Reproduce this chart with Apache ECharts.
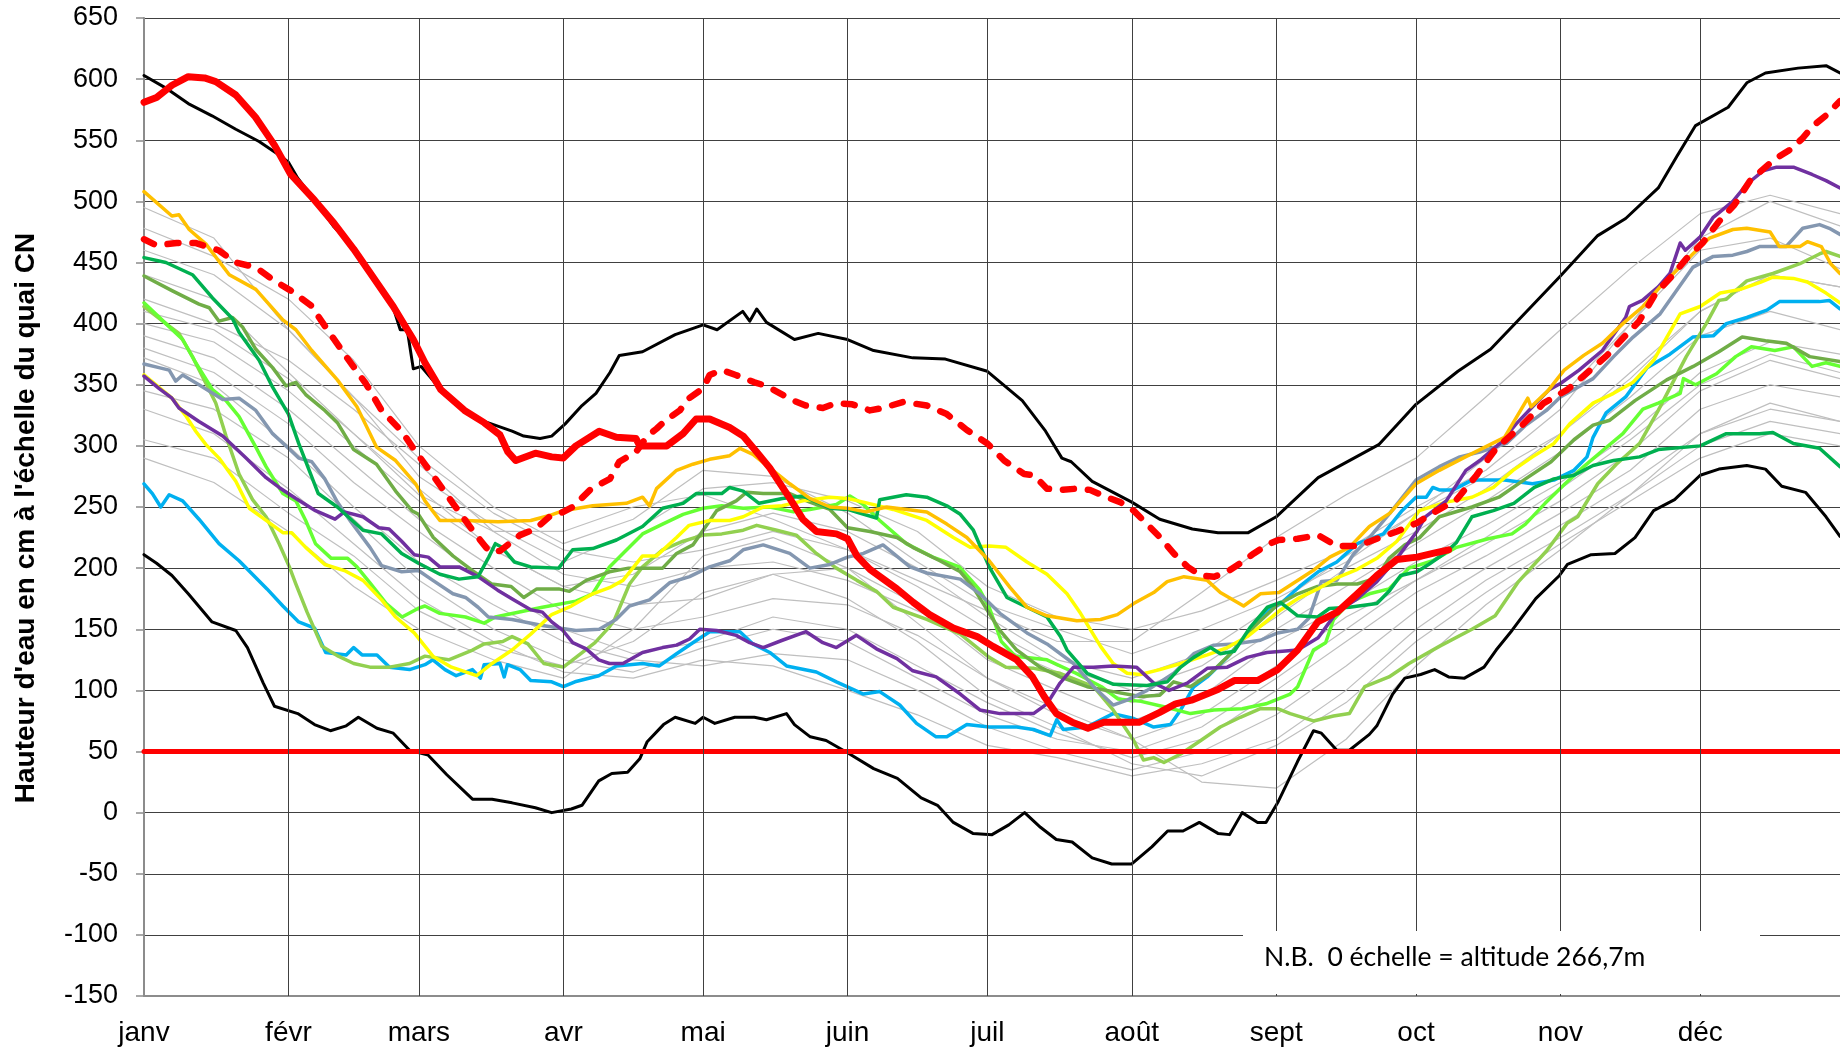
<!DOCTYPE html>
<html><head><meta charset="utf-8">
<script src="https://cdn.jsdelivr.net/npm/echarts@6/dist/echarts.min.js"></script>
<style>html,body{margin:0;padding:0;background:#fff}#chart{width:1840px;height:1051px}</style>
</head><body><div id="chart"></div>
<script>
// ---------- axes ----------
const monthLabels = ['janv','févr','mars','avr','mai','juin','juil','août','sept','oct','nov','déc'];
const monthStartDays = [0,31,59,90,120,151,181,212,243,273,304,334];
const yMin = -150, yMax = 650, yStep = 50;
const yTitle = "Hauteur d'eau en cm à l'échelle du quai CN";
const note = "N.B.  0 échelle = altitude 266,7m";
const alertLevel = 50;

// ---------- series values: [day of year, cm] ----------
const maxYears = [[0,603],[5,592],[9.5,580],[14.6,570],[19.7,559],[24.7,549],[29,538],[31,532],[33,519],[36.6,501],[40.8,479],[45,462],[49,439],[53.5,413],[55,395],[56.5,395],[57.8,363],[59.5,365],[63.7,346],[68.8,330],[73,320],[79,312],[81.5,308],[85,306],[87.5,308],[90.4,318],[94,333],[97,343],[100,360],[102,374],[107,377],[114,391],[120,399],[123,395],[128.5,410],[130,402],[131.5,412],[133.6,401],[139.6,387],[144.7,392],[151,387],[156.6,378],[165,372],[172,371],[181,361],[188.5,337],[193.5,312],[197,290],[199,287],[203.5,271],[212,254],[218,240],[225,232],[230.5,229],[237,229],[243,242],[252,274],[265,301],[273,334],[282,361],[289,379],[295,403],[304,439],[312,472],[318,486],[325,511],[329,537],[333,562],[340,577],[344,597],[348,605],[355,609],[361,611],[364,605]];
const minYears = [[0,211],[2.7,204],[6,194],[9.5,179],[14.6,156],[19.7,149],[22.2,135],[25.6,106],[28,87],[33,81],[36.6,72],[40,67],[43.4,71],[46,78],[50,69],[53.5,65],[57,51],[61,47],[65,31],[70.5,11],[74.7,11],[79,8],[84,4],[87.5,0],[91.7,3],[94,6],[97.6,26],[100.4,32],[103.8,33],[106.4,44],[108,58],[111.5,72],[114,78],[118.3,73],[120,78],[122.5,73],[126.8,78],[131,78],[133.6,76],[137.9,81],[139.6,72],[143,62],[146.4,59],[151,49],[156.6,36],[161.7,28],[166.8,12],[170.3,6],[173.7,-8],[177.9,-17],[182,-18],[185.6,-10],[189,0],[192.4,-12],[195.8,-22],[199.2,-24],[203.5,-37],[207.7,-42],[212,-42],[216.3,-28],[219.7,-15],[223,-15],[226.5,-8],[230.5,-17],[233,-18],[235.7,0],[239,-8],[240.8,-8],[243.3,8],[247.6,42],[251,67],[252.7,65],[256,51],[258.7,51],[263,64],[264.6,71],[268,97],[270.6,110],[274,113],[277,117],[280,111],[283.4,110],[287.6,119],[290.2,133],[293.6,149],[298.7,175],[303.8,194],[305.5,203],[310.6,211],[315.7,212],[320,225],[324,247],[328.5,256],[334,276],[338,281],[344,284],[348,281],[351.5,267],[356.6,262],[361,242],[364,226]];
const currentYear = [[0,581],[2.7,585],[6,595],[9.5,602],[13,601],[15.4,598],[19.7,587],[23.9,569],[28,546],[31.5,522],[36.6,501],[40.8,482],[45,461],[49,439],[53.5,414],[57.8,387],[60.3,368],[63.7,346],[68.8,329],[73,319],[76.4,309],[78.1,295],[79.8,288],[84,294],[87.5,291],[90,290],[92.7,300],[97.7,312],[101.4,307],[105.6,306],[106.4,300],[112.2,300],[115.7,310],[118.5,322],[121.4,322],[125.7,315],[128.6,308],[131.5,295],[134.3,282],[138.6,257],[141.4,240],[144.3,230],[148.6,228],[151,224],[153,210],[155.8,199],[161.6,183],[165.1,172],[168.6,162],[173.7,151],[178.8,144],[182.2,136],[187.3,125],[190.7,111],[193.2,95],[195.8,81],[199.2,74],[202.6,69],[206,74],[211.1,74],[213.7,74],[218,82],[221.4,89],[224.8,92],[230.6,101],[234,108],[239,108],[243.3,117],[247.6,133],[251.9,156],[256.1,164],[260.4,179],[264.6,194],[268.9,207],[273.2,209],[276.6,212],[280,215]];
const meanYears = [[0,469],[2.7,464],[7,466],[11,466],[16,460],[19.7,450],[24,446],[28,435],[31.5,427],[35.8,415],[39,397],[43.4,373],[47.6,351],[51,329],[55.3,312],[57.8,298],[62,276],[66.3,253],[70.5,231],[74,214],[76.4,214],[80.7,227],[84,232],[87,242],[90,246],[92,250],[96,265],[100,273],[102,287],[105.6,295],[108,308],[110,314],[112,321],[115,329],[117,339],[120,347],[121.4,358],[124,362],[127,358],[131,352],[133.6,349],[136.5,343],[139.4,337],[142,333],[145.7,331],[148.6,335],[152,334],[155.8,329],[158.6,331],[163,336],[168,333],[172.3,326],[176.6,313],[181,302],[184.6,288],[188.9,277],[191,276],[193.8,265],[196.7,264],[200.2,265],[203,264],[206.6,258],[209.5,254],[212.4,247],[215.3,236],[218.1,225],[221,212],[224,201],[226.8,194],[229.7,193],[232.5,197],[235.3,204],[238.2,212],[241,219],[243.5,223],[247.6,224],[252,227],[256,218],[260.4,218],[264.6,224],[268.9,230],[273.2,237],[276.6,245],[281.7,256],[286,276],[290.2,298],[295.3,315],[300.4,335],[305.5,346],[308.9,357],[314,374],[317.4,388],[320.9,402],[324.3,424],[327.7,438],[331,453],[334.5,466],[337.9,483],[341.3,497],[344.7,517],[349.8,534],[353.2,542],[355.8,551],[358.3,562],[360.9,570],[364,582]];

const yearOrange = [[0,508],[6,488],[7.5,489],[9.7,477],[13.3,465],[18.3,440],[24,428],[29.8,403],[32.6,395],[36,378],[41.5,354],[45.7,332],[49.9,299],[54,288],[58.3,269],[60.3,255],[63.5,239],[69,239],[76,238],[83,239],[87,243],[90,247],[96.3,251],[103.5,253],[107,258],[108.5,251],[110,265],[114.3,280],[117.8,285],[121.4,289],[125.7,292],[127.9,298],[130.7,293],[134.3,282],[138.6,269],[142.9,257],[147.2,250],[151,249],[155,246],[159.4,250],[168,246],[172.3,236],[176.6,225],[181.4,206],[185.9,184],[189.5,168],[193.8,161],[200.2,157],[205.3,158],[208.9,162],[212.4,171],[216.7,180],[219.6,189],[223.2,193],[228.2,190],[231,180],[236,169],[239.6,179],[243.6,180],[250.9,198],[254.5,209],[258.7,217],[263,234],[267.4,245],[273,269],[278,280],[283.6,291],[287.8,299],[292,307],[294.2,321],[297,339],[297.7,332],[301.3,345],[304.8,362],[309,374],[313,384],[317.4,400],[321.7,414],[325.4,430],[332.4,457],[336,470],[341,477],[344,478],[349,475],[351,463],[355.4,463],[357,467],[360,463],[362,449],[364,441]];
const yearDarkGreen = [[0,454],[4.7,450],[10.4,440],[14.7,421],[19,404],[20.4,393],[24.7,370],[27.6,348],[31,326],[33.2,302],[37.4,261],[41.5,250],[47,231],[51,228],[55.3,212],[58.9,204],[63.5,195],[67.6,191],[71.7,193],[74,209],[75.4,220],[76.8,217],[79.5,205],[83,201],[89,200],[92,215],[96.3,216],[101.4,223],[107,234],[111.3,249],[115.7,253],[118.5,261],[124,261],[125.7,266],[128.6,263],[132,253],[137,257],[141.4,259],[147.2,249],[151,248],[153.6,245],[157.2,241],[157.9,256],[163.6,260],[168,258],[172.3,251],[175.2,244],[178,231],[181.4,201],[185.2,176],[189.5,168],[193.8,160],[196.7,144],[198.1,133],[202.4,114],[208.1,105],[215.3,104],[219.6,107],[222.5,119],[225.3,127],[228.9,135],[231,130],[234,132],[237.5,152],[241.1,168],[243.9,172],[247.6,161],[251.9,160],[254.4,167],[258.7,168],[264.6,171],[267.2,181],[269.7,194],[273.2,197],[275.7,203],[279.1,212],[281.7,221],[285,242],[289.6,247],[294,253],[298.4,266],[302.6,273],[306.9,276],[311,284],[315.4,288],[321,291],[325,297],[334,300],[339.6,310],[346.7,310],[349.6,311],[354,302],[359.6,298],[364,283]];
const yearOlive = [[0,439],[6,427],[11.8,416],[14,413],[16.1,402],[19,405],[21.2,397],[24,379],[27.6,364],[30.5,349],[32.6,352],[34.7,342],[38.8,329],[41.5,319],[45,297],[49.9,285],[54,263],[57.5,247],[58.9,244],[62.1,225],[66.3,210],[70.5,198],[74.6,187],[78.8,185],[81.5,176],[84.3,183],[89,183],[91.3,181],[94.9,190],[99.9,197],[104,200],[111.3,200],[114.3,212],[117.8,219],[120,231],[122.9,247],[127.1,255],[129.3,262],[132.9,261],[138.6,261],[142.9,254],[147.2,248],[151,233],[155.8,230],[161.6,225],[165,217],[170.8,206],[175.2,197],[178,184],[181.4,163],[183.7,149],[187.3,133],[192.3,119],[196.6,111],[202.4,103],[208,99],[213.8,95],[218,96],[221,107],[224.6,103],[228.9,114],[233.2,130],[238.2,152],[243.3,170],[247.6,179],[251.9,185],[256,187],[260.4,187],[264.6,192],[267.2,208],[270.6,219],[273.8,225],[278,242],[285,250],[290.8,258],[296.5,273],[302,287],[306.9,305],[311,317],[314.6,321],[320,337],[326.8,354],[332.5,365],[338,377],[343,389],[348,386],[352.5,384],[357.5,373],[364,369]];
const yearBrightGreen = [[0,417],[4.7,400],[8.3,387],[11.1,368],[14.7,346],[17.6,337],[20.4,324],[24,299],[26.2,283],[29.8,261],[32.6,255],[34.7,239],[36.8,220],[40.2,208],[43.7,208],[45.7,201],[48.5,188],[52,171],[55.4,160],[58.8,167],[60.3,169],[63.5,163],[69,160],[73,155],[75.4,160],[85.5,168],[92.7,173],[96.3,179],[99.9,201],[102.8,212],[107,228],[111.3,236],[115.7,244],[120,249],[124,251],[128.6,249],[134.3,250],[139.4,246],[142.9,248],[148.6,252],[151.5,259],[154.4,252],[157.9,239],[163.6,220],[169.3,209],[175,201],[179.4,182],[181.4,168],[184,140],[187,128],[193.8,125],[200,114],[205.5,103],[209,93],[214,91],[219.6,86],[224.6,81],[229.6,84],[235.7,85],[240.8,89],[246,97],[247.6,103],[251,133],[253.6,139],[255.3,158],[258.7,172],[263,179],[267.2,183],[271.5,200],[276.6,206],[281.7,217],[288.5,224],[293.6,228],[296.5,236],[300.7,253],[305,269],[309,283],[313,296],[317.4,310],[321.7,330],[325,335],[329.7,343],[330.4,355],[333,350],[337.5,359],[341.6,373],[345,381],[350,378],[354,381],[358,365],[361,368],[364,365]];
const yearYellowGreen = [[0,414],[4.7,400],[7.5,392],[10.4,373],[13.3,351],[15.4,335],[17.6,308],[20.4,277],[23.3,256],[26.2,242],[29,220],[31.2,201],[32.6,187],[35,164],[38.2,136],[41.7,128],[45,122],[48.5,119],[52.7,119],[57,122],[60.3,128],[65.4,125],[70.5,133],[73,138],[77,140],[79,144],[82.4,138],[85.8,122],[90,119],[93.4,129],[96.8,139],[99.9,152],[101,158],[104.2,187],[107,201],[111.3,215],[115.7,222],[120,227],[124,228],[128.6,231],[131.5,235],[135.8,231],[140,227],[144.3,212],[148.6,200],[153,190],[157.2,181],[160.8,168],[168,158],[175.2,146],[181.4,127],[185,119],[191,118],[196.6,114],[203.8,103],[208,84],[212.4,59],[214.5,43],[216.7,45],[218.9,41],[222.5,48],[226.8,59],[231,70],[235.3,78],[239.6,85],[243.3,85],[246,81],[251,75],[255.3,79],[258.7,81],[262,103],[267.2,111],[271.5,122],[278,136],[285,150],[290,161],[295,189],[301,214],[305.5,237],[307.7,242],[312,269],[316,285],[321,302],[325,329],[331,373],[335.3,400],[338,419],[339.6,420],[341.6,427],[344,435],[349.6,441],[355.4,449],[359.6,457],[361,459],[364,455]];
const yearSlate = [[0,367],[3.2,364],[5.4,362],[6.8,353],[8.3,358],[11.8,350],[16.9,338],[20.4,339],[24,329],[27.6,310],[31,298],[33.2,290],[36,287],[38.8,273],[41.5,254],[44.4,238],[48.5,217],[51,202],[55.3,197],[58.9,198],[62,190],[66.3,179],[69,176],[71.7,168],[73.9,160],[79,158],[85.5,153],[92.7,149],[97.7,150],[101.3,158],[104.2,169],[108.5,174],[112.8,188],[117.1,193],[121.4,201],[125.7,206],[128.6,215],[132.9,219],[138.6,212],[142.9,200],[147.2,203],[151,209],[154.4,212],[158.6,219],[164.4,201],[168,196],[175.2,191],[179.4,179],[183.7,163],[189.5,147],[193.8,138],[199.5,122],[203.8,103],[208,88],[211,92],[215.3,100],[221,114],[225.3,130],[229.6,137],[233.9,138],[239.6,141],[243.3,147],[247.6,150],[250,159],[252.7,189],[256,190],[259.5,211],[263,225],[267.4,245],[273,272],[278,283],[282.4,291],[286.7,295],[292.4,302],[296.6,317],[301,329],[304,340],[311,355],[315.4,373],[319.6,389],[325.4,408],[332.4,446],[336.8,455],[341,456],[344,459],[346.7,463],[352.4,463],[356,478],[359.6,481],[361.7,478],[364,473]];
const yearYellow = [[0,358],[6,339],[8.9,325],[11.1,312],[13.3,301],[16.1,290],[19.7,271],[22.6,249],[26.2,239],[29.8,229],[31.7,229],[34.7,217],[38.8,203],[43,198],[47,190],[51,174],[54,160],[58,147],[62,128],[66,119],[71.4,112],[74.7,122],[79,133],[83,146],[87.5,162],[91.7,169],[96.3,179],[99.9,184],[102.8,190],[107,210],[110,210],[114.3,225],[117,235],[121.4,239],[125.7,239],[128.6,242],[132.9,250],[137,251],[141.4,255],[147.2,258],[151,257],[154.4,254],[160.8,248],[168,239],[173.7,225],[177.3,217],[181.4,218],[185,217],[189.5,205],[193.8,195],[198.1,179],[201,163],[205.3,136],[208,122],[211,114],[213.8,113],[218,117],[222.5,122],[228.2,129],[232.5,135],[236.8,144],[241.1,157],[244,166],[247.6,175],[251.9,183],[256,192],[260.4,199],[264.6,208],[268.9,222],[273.7,247],[279.5,254],[285,258],[289.6,266],[293.8,280],[298,291],[302.6,302],[306,318],[311,335],[315.4,343],[319.6,352],[324,370],[329.7,408],[334,414],[338.3,425],[342.6,428],[347,434],[349.6,438],[354,437],[357,434],[361,425],[364,417]];
const yearPurple = [[0,357],[3.2,347],[6,339],[7.5,331],[11.8,320],[16.9,308],[21.9,290],[26.2,274],[29,266],[32.6,257],[36.8,247],[41,240],[43,246],[47,242],[50.4,233],[52.6,232],[55.3,222],[58,211],[61,209],[63.5,201],[67.6,201],[71.7,193],[75.9,182],[79.4,174],[83,166],[85.5,164],[87.5,156],[89.9,149],[92,139],[94.9,134],[97.6,125],[99.9,122],[102.8,122],[107,131],[111.3,135],[114.3,137],[117.1,142],[119.3,150],[122.9,149],[127.1,145],[130,139],[132.9,135],[137,141],[142.1,148],[145.7,139],[148.6,135],[152.9,145],[157.2,134],[161.6,126],[165,116],[170,111],[175.2,97],[179.4,84],[183.7,81],[190.9,81],[193.8,89],[196.6,106],[199.5,119],[203.8,119],[208,120],[213,119],[216.7,106],[220,100],[223.9,106],[228.2,118],[232.5,119],[236.8,127],[241,131],[247.6,133],[252,143],[256,164],[260.4,175],[264.6,189],[268.9,208],[273.2,230],[275,242],[279.5,255],[283.7,280],[286.7,288],[291,302],[294.5,318],[298,332],[301.6,346],[304,351],[308,362],[313,378],[318,405],[318.8,414],[321.6,419],[325,430],[327.5,441],[329.7,466],[330.8,460],[334,471],[336.8,487],[341,500],[344,514],[347.5,525],[350.4,528],[354,528],[358,522],[361,517],[364,511]];
const yearCyan = [[0,269],[1.8,261],[3.6,250],[5.4,260],[8.3,255],[11.8,240],[16.1,220],[20.4,206],[26.4,183],[29.8,169],[33.2,156],[36.6,151],[39,131],[43.4,129],[45,135],[46.8,129],[50,129],[52.7,119],[57,117],[60.3,121],[62,125],[64.6,117],[67,112],[70.5,117],[72.2,110],[73,121],[76.4,122],[77.3,111],[78,121],[80.7,117],[83,108],[87.5,107],[90,103],[92.5,107],[97.6,112],[101.4,120],[107,122],[110.6,120],[114.3,130],[117.8,139],[121.4,148],[127.9,148],[130.7,138],[134.3,131],[137.9,120],[144.3,115],[148.6,107],[154.4,97],[157.9,99],[162.2,88],[165.8,73],[170,62],[172.3,62],[176.6,72],[181.4,70],[187.3,70],[190.9,68],[194.5,63],[195.9,76],[197.3,68],[202.3,70],[208,81],[212.4,77],[216.7,70],[220.3,72],[222.5,84],[225.3,103],[228.2,111],[232.5,127],[236.8,146],[241,165],[244,171],[248,185],[252,197],[256,205],[260.4,220],[266,228],[270,247],[273,258],[275.2,258],[276.6,266],[278,264],[281,264],[285,272],[292,272],[298,269],[302.6,272],[306.9,280],[309.7,291],[311,307],[313.8,327],[318,340],[322.6,364],[327.5,375],[332.4,389],[336.8,390],[339.6,400],[344,405],[348.3,411],[351,418],[359.6,418],[361.7,419],[364,412]];

// other years (thin grey), sampled at these days
const greyDays = [0,15,31,45,59,75,90,105,120,135,151,166,181,196,212,227,243,258,273,288,304,319,334,349,364];
const grey1  = [495,470,395,340,275,235,205,230,265,270,255,230,185,160,150,165,190,215,250,280,330,400,470,500,480];
const grey2  = [478,455,420,370,300,250,220,240,280,275,245,205,170,150,130,150,175,205,245,290,340,400,460,470,445];
const grey3  = [460,440,395,340,290,245,215,205,215,230,215,185,150,120,100,120,160,200,230,265,310,360,410,440,430];
const grey4  = [420,400,370,330,285,230,195,185,200,205,190,165,140,115,90,110,150,185,220,255,295,340,390,410,395];
const grey5  = [400,385,345,300,255,215,185,170,175,195,200,170,125,100,75,95,140,170,205,235,270,310,360,385,375];
const grey6  = [390,372,330,285,240,200,165,150,160,175,170,145,110,80,60,80,120,160,190,220,255,295,345,370,355];
const grey7  = [380,360,318,270,230,185,150,130,140,160,150,120,90,65,45,60,100,140,180,210,245,280,330,350,340];
const grey8  = [372,350,300,250,205,170,140,125,120,130,125,100,70,50,35,50,80,120,165,200,235,270,310,335,320];
const grey9  = [345,330,290,240,190,150,125,115,135,150,140,110,80,60,50,70,110,150,190,225,265,305,350,375,360];
const grey10 = [330,310,265,220,175,140,115,110,125,120,100,80,55,45,30,40,60,100,150,190,225,260,300,320,310];
const grey11 = [305,290,245,210,165,135,120,140,180,195,175,140,95,70,40,30,55,90,140,180,220,255,290,310,300];
const grey12 = [290,270,230,185,150,125,110,150,210,225,200,155,110,85,60,25,20,60,120,170,215,260,310,330,320];
const grey13 = [440,420,360,310,260,230,230,250,260,240,215,190,165,140,140,180,225,260,290,340,395,445,490,505,490];
const grey14 = [410,395,355,310,265,215,185,195,230,245,230,200,160,125,110,130,170,210,245,275,310,355,410,440,430];
const greyYears = [grey1,grey2,grey3,grey4,grey5,grey6,grey7,grey8,grey9,grey10,grey11,grey12,grey13,grey14];

// ---------- chart ----------
const chart = echarts.init(document.getElementById('chart'), null, {renderer: 'canvas'});
const font = '"Liberation Sans", Arial, sans-serif';
const series = [];
function lineSeries(name, data, color, width, z, extra) {
  return Object.assign({
    name, type: 'line', data, showSymbol: false, symbol: 'none', smooth: false,
    lineStyle: {color, width, join: 'round', cap: 'round'}, z, silent: true, animation: false
  }, extra || {});
}
greyYears.forEach((vals, i) => {
  series.push(lineSeries('g' + i, vals.map((v, k) => [greyDays[k], v]), '#bfbfbf', 1.2, 2));
});
series.push(lineSeries('cyan', yearCyan, '#00b0f0', 3.5, 3));
series.push(lineSeries('yellowGreen', yearYellowGreen, '#92d050', 3.5, 3));
series.push(lineSeries('brightGreen', yearBrightGreen, '#66ff33', 3.5, 3));
series.push(lineSeries('olive', yearOlive, '#70ad47', 3.5, 3));
series.push(lineSeries('slate', yearSlate, '#8497b0', 3.5, 3));
series.push(lineSeries('yellow', yearYellow, '#ffff00', 3.5, 3));
series.push(lineSeries('purple', yearPurple, '#7030a0', 3.5, 3));
series.push(lineSeries('darkGreen', yearDarkGreen, '#00b050', 3.5, 3));
series.push(lineSeries('orange', yearOrange, '#ffc000', 3.5, 3));
series.push(lineSeries('max', maxYears, '#000000', 3, 4));
series.push(lineSeries('min', minYears, '#000000', 3, 4));
series.push(lineSeries('alert', [[0, alertLevel], [364, alertLevel]], '#ff0000', 5, 4, {
  markLine: {
    silent: true, symbol: 'none', label: {show: false}, animation: false,
    lineStyle: {color: '#404040', width: 1, type: 'solid'},
    data: monthStartDays.slice(1).map(d => ({xAxis: d}))
  }
}));
series.push(lineSeries('mean', meanYears, '#ff0000', 6.5, 5, {}));
series[series.length - 1].lineStyle.type = [11, 14];
series.push(lineSeries('current', currentYear, '#ff0000', 7, 6));

chart.setOption({
  animation: false,
  backgroundColor: '#ffffff',
  grid: {left: 144, right: 0, top: 18, bottom: 55, containLabel: false, outerBoundsMode: 'none'},
  xAxis: {
    type: 'value', min: 0, max: 364,
    axisLine: {show: true, onZero: false, lineStyle: {color: '#8c8c8c', width: 2}},
    axisTick: {show: false, customValues: monthStartDays},
    splitLine: {show: false},
    axisLabel: {
      customValues: monthStartDays, margin: 23, color: '#000', fontSize: 28, fontFamily: font,
      formatter: v => monthLabels[monthStartDays.indexOf(Math.round(v))] || ''
    }
  },
  yAxis: {
    type: 'value', min: yMin, max: yMax, interval: yStep,
    axisLine: {show: true, lineStyle: {color: '#8c8c8c', width: 2}},
    axisTick: {show: true, length: 8, lineStyle: {color: '#8c8c8c', width: 1.5}},
    splitLine: {show: true, lineStyle: {color: '#404040', width: 1}},
    axisLabel: {margin: 26, color: '#000', fontSize: 27, fontFamily: font}
  },
  graphic: [
    {type: 'text', x: 26, y: 518, rotation: Math.PI / 2, z: 100,
     style: {text: yTitle, font: 'bold 28px ' + font, fill: '#000', textAlign: 'center', textVerticalAlign: 'middle'}},
    {type: 'rect', shape: {x: 1243, y: 931, width: 517, height: 63}, style: {fill: '#ffffff'}, z: 100},
    {type: 'text', x: 1264, y: 957, z: 101,
     style: {text: note, font: '26.5px Lato, "Open Sans", sans-serif', fill: '#000', textAlign: 'left', textVerticalAlign: 'middle'}}
  ],
  series
});
</script>
</body></html>
